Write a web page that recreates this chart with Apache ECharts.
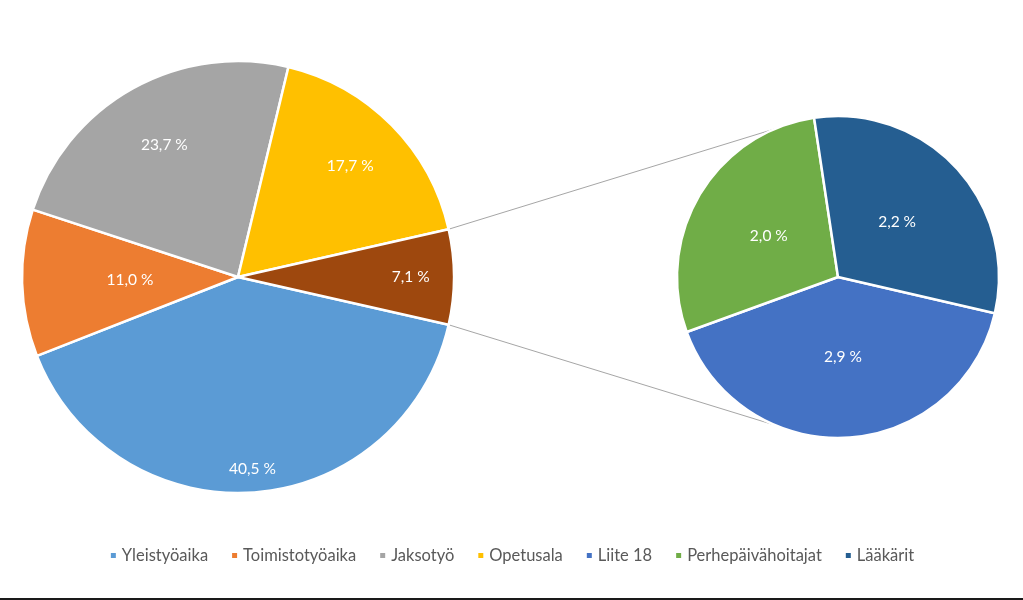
<!DOCTYPE html>
<html>
<head>
<meta charset="utf-8">
<script src="https://cdn.jsdelivr.net/npm/echarts@6/dist/echarts.min.js"></script>
<style>
  html, body { margin: 0; padding: 0; background: #fff; }
  #chart { width: 1023px; height: 598px; border-bottom: 2px solid #1a1a1a; }
</style>
</head>
<body>
<div id="chart"></div>
<script>
// main pie (the rest goes to the small pie)
const mainNames = ['Yleistyöaika', 'Toimistotyöaika', 'Jaksotyö', 'Opetusala']
const mainValues = [40.5, 11.0, 23.7, 17.7]
// small pie = split of the brown "other" slice
const subNames = ['Liite 18', 'Perhepäivähoitajat', 'Lääkärit']
const subValues = [2.9, 2.0, 2.2]

const mainColors = ['#5b9bd5', '#ed7d31', '#a5a5a5', '#ffc000']
const otherColor = '#9e480e'
const subColors = ['#4472c4', '#70ad47', '#255e91']

const otherValue = subValues.reduce((a, b) => a + b, 0)
const mainTotal = mainValues.reduce((a, b) => a + b, 0) + otherValue

// layout
const mainCenter = [238, 277], mainR = 216
const subCenter = [838, 277], subR = 161
const halfOther = otherValue / mainTotal * 180   // other slice centred on the right
const subStart = -13
const linkAngle = 113                            // where the connector lines hit the small pie
// label distance from centre, share of radius (excel "best fit" look)
const mainLabelPos = [0.89, 0.5, 0.7, 0.73, 0.8]
const subLabelPos = [0.5, 0.5, 0.5]

const font = 'Lato, "Open Sans", sans-serif'
const fmt = p => p.value.toFixed(1).replace('.', ',') + '\u00a0%'

function spread(center, r, factors) {
  return function (params) {
    const rect = params.labelRect
    const a = Math.atan2(rect.y + rect.height / 2 - center[1], rect.x + rect.width / 2 - center[0])
    const k = factors[params.dataIndex]
    return { x: center[0] + Math.cos(a) * r * k, y: center[1] + Math.sin(a) * r * k }
  }
}

function onCircle(center, r, deg) {
  const a = deg * Math.PI / 180
  return [center[0] + Math.cos(a) * r, center[1] - Math.sin(a) * r]
}

const mainData = mainNames.map((n, i) => ({ name: n, value: mainValues[i], itemStyle: { color: mainColors[i] } }))
mainData.push({ name: 'Muut', value: otherValue, itemStyle: { color: otherColor } })
const subData = subNames.map((n, i) => ({ name: n, value: subValues[i], itemStyle: { color: subColors[i] } }))

const p1 = onCircle(mainCenter, mainR, halfOther)
const p2 = onCircle(mainCenter, mainR, -halfOther)
const q1 = onCircle(subCenter, subR, linkAngle)
const q2 = onCircle(subCenter, subR, -linkAngle)

const lineStyle = { stroke: '#a6a6a6', lineWidth: 1 }
const labelStyle = { position: 'inside', color: '#fff', fontSize: 15.5, fontFamily: font, formatter: fmt }

const chart = echarts.init(document.getElementById('chart'))

chart.setOption({
  animation: false,
  backgroundColor: '#fff',
  textStyle: { fontFamily: font },
  legend: {
    data: mainNames.concat(subNames),
    bottom: 29,
    left: 'center',
    icon: 'rect',
    itemWidth: 7,
    itemHeight: 7,
    itemGap: 22,
    selectedMode: false,
    textStyle: { color: '#595959', fontSize: 16.5, fontFamily: font }
  },
  graphic: [
    { type: 'line', z: 0, shape: { x1: p1[0], y1: p1[1], x2: q1[0], y2: q1[1] }, style: lineStyle },
    { type: 'line', z: 0, shape: { x1: p2[0], y1: p2[1], x2: q2[0], y2: q2[1] }, style: lineStyle }
  ],
  series: [
    {
      type: 'pie',
      center: mainCenter,
      radius: mainR,
      startAngle: -halfOther,
      clockwise: true,
      avoidLabelOverlap: false,
      itemStyle: { borderColor: '#fff', borderWidth: 2.5 },
      label: labelStyle,
      labelLine: { show: false },
      labelLayout: spread(mainCenter, mainR, mainLabelPos),
      emphasis: { disabled: true },
      data: mainData
    },
    {
      type: 'pie',
      center: subCenter,
      radius: subR,
      startAngle: subStart,
      clockwise: true,
      avoidLabelOverlap: false,
      itemStyle: { borderColor: '#fff', borderWidth: 2.5 },
      label: labelStyle,
      labelLine: { show: false },
      labelLayout: spread(subCenter, subR, subLabelPos),
      emphasis: { disabled: true },
      data: subData
    }
  ]
})
</script>
</body>
</html>
